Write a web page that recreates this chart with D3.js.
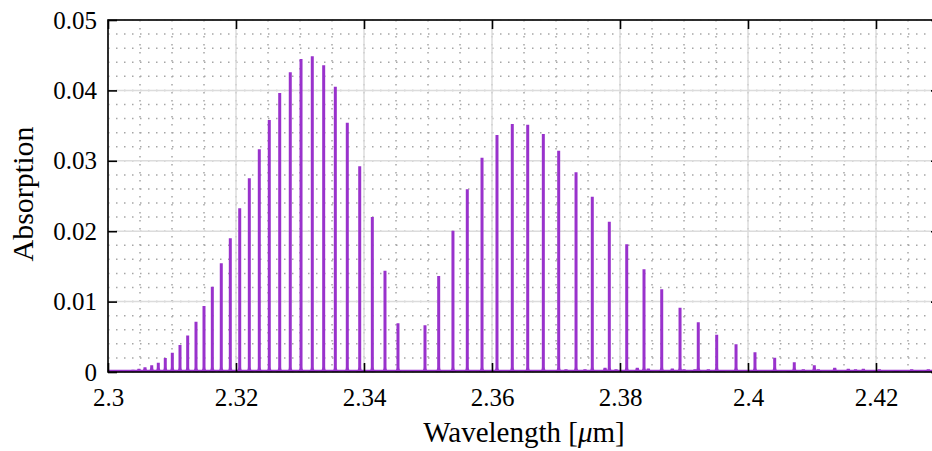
<!DOCTYPE html>
<html>
<head>
<meta charset="utf-8">
<script src="https://cdn.jsdelivr.net/npm/d3@7"></script>
<style>
  body { margin: 0; background: #fff; }
  svg { display: block; overflow: hidden; }
  text { font-family: "Liberation Serif", "Times New Roman", serif; fill: #000; }
</style>
</head>
<body>
<div id="chart"></div>
<script>
// R branch lines (wavelength in um, absorption)
var rWave = [2.30109, 2.30203, 2.30297, 2.30391, 2.30484, 2.30578, 2.30683, 2.30786, 2.30895, 2.31005,
             2.31125, 2.31245, 2.31375, 2.31500, 2.31630, 2.31770, 2.31911, 2.32058, 2.32208, 2.32364,
             2.32520, 2.32683, 2.32848, 2.33016, 2.33192, 2.33370, 2.33552, 2.33739, 2.33933, 2.34130,
             2.34328, 2.34531];
var rAbs = [0.0001, 0.00016, 0.00024, 0.00033, 0.00047, 0.00067, 0.00095, 0.00133, 0.0020, 0.00275,
            0.00384, 0.0052, 0.00715, 0.00938, 0.01212, 0.01544, 0.0190, 0.02325, 0.02751, 0.03163,
            0.0358, 0.03963, 0.04257, 0.04446, 0.04484, 0.04356, 0.04053, 0.03542, 0.02922, 0.02202,
            0.01439, 0.00692];
// P branch lines
var pWave = [2.34953, 2.35167, 2.35390, 2.35614, 2.35844, 2.36078, 2.36317, 2.36558, 2.36802, 2.37042,
             2.37313, 2.37567, 2.37833, 2.38105, 2.38375, 2.38652, 2.38938, 2.39223, 2.39511, 2.39813,
             2.40109, 2.40417, 2.40723, 2.41036, 2.41355, 2.41680, 2.42000, 2.42320, 2.42640];
var pAbs = [0.00663, 0.01364, 0.02007, 0.02595, 0.03044, 0.03366, 0.03523, 0.03513, 0.03381, 0.03144,
            0.02836, 0.0249, 0.02135, 0.01814, 0.01459, 0.01174, 0.00914, 0.00706, 0.0053, 0.00393,
            0.0028, 0.00203, 0.00138, 0.00095, 0.00061, 0.0004, 0.0003, 0.00025, 0.0002];
// weak (hot band) lines
var weakWave = [2.37156, 2.37453, 2.37766, 2.37938, 2.38270, 2.38442, 2.38817, 2.39000, 2.39172, 2.39380,
                2.39589, 2.40645, 2.40864, 2.41098, 2.41567, 2.41802, 2.42052, 2.42558, 2.42817];
var weakAbs = [0.0004, 0.0004, 0.0006, 0.0004, 0.0006, 0.0005, 0.0005, 0.0004, 0.0004, 0.0004,
               0.0003, 0.0003, 0.0004, 0.0004, 0.00045, 0.00045, 0.0004, 0.0004, 0.0004];

var xTicks = [2.3, 2.32, 2.34, 2.36, 2.38, 2.4, 2.42];
var xTickLabels = ["2.3", "2.32", "2.34", "2.36", "2.38", "2.4", "2.42"];
var yTicks = [0, 0.01, 0.02, 0.03, 0.04, 0.05];
var yTickLabels = ["0", "0.01", "0.02", "0.03", "0.04", "0.05"];
var xMinor = d3.range(2.3, 2.4301, 0.005);
var yMinor = d3.range(0, 0.0501, 0.002);

var svgWidth = 932, svgHeight = 451;
var margin = {top: 20, right: -8, bottom: 79, left: 108};
var chartWidth = svgWidth - margin.left - margin.right;
var chartHeight = svgHeight - margin.top - margin.bottom;
var purple = "#9932CC";

var svg = d3.select("#chart").append("svg")
  .attr("width", svgWidth).attr("height", svgHeight);
var chartGroup = svg.append("g")
  .attr("transform", `translate(${margin.left}, ${margin.top})`);

var x = d3.scaleLinear().domain([2.3, 2.43]).range([0, chartWidth]);
var y = d3.scaleLinear().domain([0, 0.05]).range([chartHeight, 0]);

// minor grid (dotted)
chartGroup.append("g").selectAll("line").data(xMinor).enter().append("line")
  .attr("x1", d => x(d)).attr("x2", d => x(d)).attr("y1", 0).attr("y2", chartHeight)
  .attr("stroke", "#a6a6a6").attr("stroke-width", 1.5).attr("stroke-dasharray", "1.5 6.5");
chartGroup.append("g").selectAll("line").data(yMinor).enter().append("line")
  .attr("x1", 0).attr("x2", chartWidth).attr("y1", d => y(d)).attr("y2", d => y(d))
  .attr("stroke", "#a6a6a6").attr("stroke-width", 1.5).attr("stroke-dasharray", "1.5 6.5");
// major grid
chartGroup.append("g").selectAll("line").data(xTicks).enter().append("line")
  .attr("x1", d => x(d)).attr("x2", d => x(d)).attr("y1", 0).attr("y2", chartHeight)
  .attr("stroke", "#dcdcdc").attr("stroke-width", 1.5);
chartGroup.append("g").selectAll("line").data(yTicks).enter().append("line")
  .attr("x1", 0).attr("x2", chartWidth).attr("y1", d => y(d)).attr("y2", d => y(d))
  .attr("stroke", "#dcdcdc").attr("stroke-width", 1.5);

// spectrum baseline
chartGroup.append("line")
  .attr("x1", x(2.3)).attr("x2", x(2.43)).attr("y1", y(0) - 1.3).attr("y2", y(0) - 1.3)
  .attr("stroke", purple).attr("stroke-width", 2);

// a single narrow line: stem with a small flared foot
function peakPath(l, a) {
  var cx = x(l), top = y(a), base = y(0);
  var fh = Math.min(5, base - top);
  return `M${cx - 3.8},${base} Q${cx - 1.5},${base - 1} ${cx - 1.5},${base - fh} L${cx - 1.5},${top}` +
         ` L${cx + 1.5},${top} L${cx + 1.5},${base - fh} Q${cx + 1.5},${base - 1} ${cx + 3.8},${base} Z`;
}
var lines = [];
rWave.forEach((w, i) => lines.push([w, rAbs[i]]));
pWave.forEach((w, i) => lines.push([w, pAbs[i]]));
weakWave.forEach((w, i) => lines.push([w, weakAbs[i]]));
chartGroup.append("g").selectAll("path").data(lines).enter().append("path")
  .attr("d", d => peakPath(d[0], d[1]))
  .attr("fill", purple);

// axes (ticks pointing inward)
var bottomAxis = d3.axisBottom(x).tickValues(xTicks).tickFormat((d, i) => xTickLabels[i])
  .tickSize(-9).tickPadding(16);
var gx = chartGroup.append("g").attr("transform", `translate(0, ${chartHeight})`).call(bottomAxis);
var topAxis = d3.axisTop(x).tickValues(xTicks).tickFormat("").tickSize(-9);
var gt = chartGroup.append("g").call(topAxis);
var leftAxis = d3.axisLeft(y).tickValues(yTicks).tickFormat((d, i) => yTickLabels[i])
  .tickSize(-9).tickPadding(11);
var gy = chartGroup.append("g").call(leftAxis);
var rightAxis = d3.axisRight(y).tickValues(yTicks).tickFormat("").tickSize(-9);
var gr = chartGroup.append("g").attr("transform", `translate(${chartWidth}, 0)`).call(rightAxis);
[gx, gt, gy, gr].forEach(g => {
  g.select(".domain").remove();
  g.selectAll(".tick line").attr("stroke", "#000").attr("stroke-width", 1.6);
  g.selectAll("text").style("font-size", "25px").style("font-family", "Liberation Serif, serif");
});

// box
chartGroup.append("rect")
  .attr("x", 0).attr("y", 0).attr("width", chartWidth).attr("height", chartHeight)
  .attr("fill", "none").attr("stroke", "#000").attr("stroke-width", 1.6);

// axis labels
var xl = svg.append("text")
  .attr("x", margin.left + chartWidth / 2).attr("y", 442)
  .attr("text-anchor", "middle").style("font-size", "29px");
xl.append("tspan").text("Wavelength [");
xl.append("tspan").style("font-style", "italic").text("\u03bc");
xl.append("tspan").text("m]");
svg.append("text")
  .attr("transform", `translate(33, ${margin.top + chartHeight / 2 - 2}) rotate(-90)`)
  .attr("text-anchor", "middle").style("font-size", "30px")
  .text("Absorption");
</script>
</body>
</html>
